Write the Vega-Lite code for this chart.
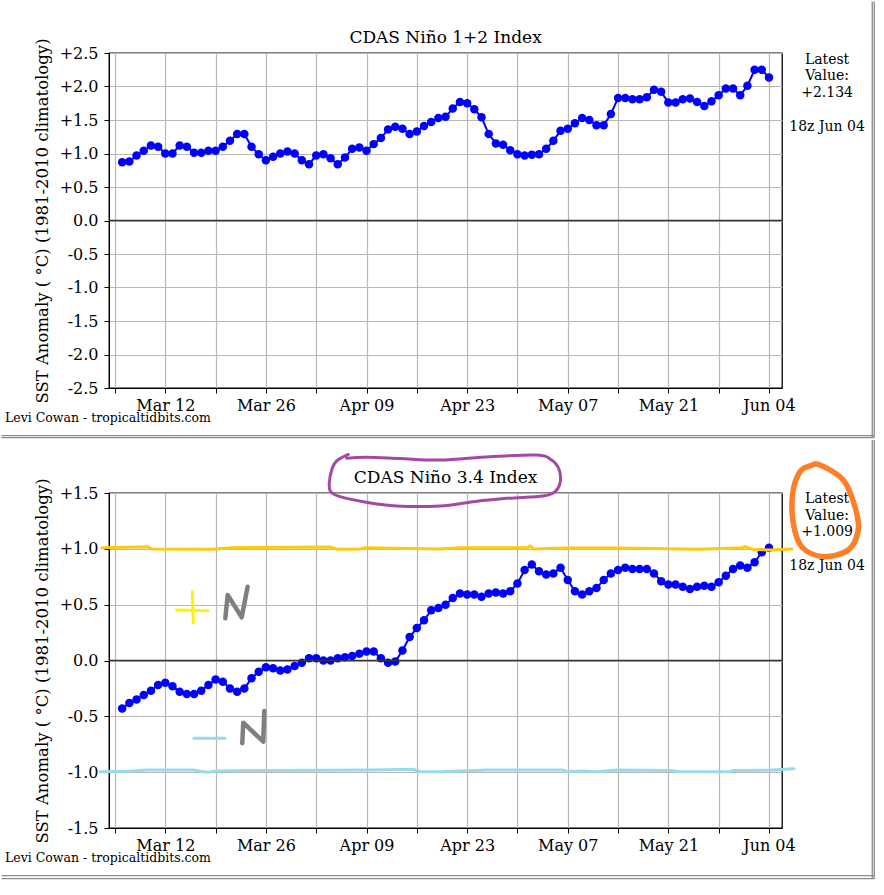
{
  "$schema": "https://vega.github.io/schema/vega-lite/v6.json",
  "padding": 0,
  "background": "white",
  "spacing": 105,
  "bounds": "flush",
  "config": {
    "font": "DejaVu Serif",
    "view": {"stroke": "black", "strokeWidth": 1.3},
    "axis": {
      "labelFont": "DejaVu Serif", "labelFontSize": 16, "labelColor": "black",
      "titleFont": "DejaVu Serif", "titleFontSize": 16.5, "titleFontWeight": "normal", "titleColor": "black",
      "tickColor": "black", "tickSize": 5, "domainColor": "black",
      "gridColor": "#b8b8b8", "gridWidth": 1.2, "labelOverlap": false
    },
    "text": {"font": "DejaVu Serif", "color": "black"}
  },
  "datasets": {
    "nino12": [
      {"date":"2023-03-06","anom":0.87},{"date":"2023-03-07","anom":0.88},{"date":"2023-03-08","anom":0.97},{"date":"2023-03-09","anom":1.04},{"date":"2023-03-10","anom":1.12},{"date":"2023-03-11","anom":1.10},{"date":"2023-03-12","anom":1.00},{"date":"2023-03-13","anom":1.00},{"date":"2023-03-14","anom":1.12},{"date":"2023-03-15","anom":1.10},
      {"date":"2023-03-16","anom":1.01},{"date":"2023-03-17","anom":1.01},{"date":"2023-03-18","anom":1.04},{"date":"2023-03-19","anom":1.04},{"date":"2023-03-20","anom":1.10},{"date":"2023-03-21","anom":1.19},{"date":"2023-03-22","anom":1.29},{"date":"2023-03-23","anom":1.29},{"date":"2023-03-24","anom":1.10},{"date":"2023-03-25","anom":0.99},
      {"date":"2023-03-26","anom":0.90},{"date":"2023-03-27","anom":0.95},{"date":"2023-03-28","anom":1.00},{"date":"2023-03-29","anom":1.03},{"date":"2023-03-30","anom":1.00},{"date":"2023-03-31","anom":0.90},{"date":"2023-04-01","anom":0.84},{"date":"2023-04-02","anom":0.97},{"date":"2023-04-03","anom":0.99},{"date":"2023-04-04","anom":0.93},
      {"date":"2023-04-05","anom":0.84},{"date":"2023-04-06","anom":0.94},{"date":"2023-04-07","anom":1.07},{"date":"2023-04-08","anom":1.09},{"date":"2023-04-09","anom":1.04},{"date":"2023-04-10","anom":1.14},{"date":"2023-04-11","anom":1.23},{"date":"2023-04-12","anom":1.36},{"date":"2023-04-13","anom":1.40},{"date":"2023-04-14","anom":1.37},
      {"date":"2023-04-15","anom":1.29},{"date":"2023-04-16","anom":1.33},{"date":"2023-04-17","anom":1.41},{"date":"2023-04-18","anom":1.47},{"date":"2023-04-19","anom":1.53},{"date":"2023-04-20","anom":1.55},{"date":"2023-04-21","anom":1.67},{"date":"2023-04-22","anom":1.77},{"date":"2023-04-23","anom":1.75},{"date":"2023-04-24","anom":1.66},
      {"date":"2023-04-25","anom":1.54},{"date":"2023-04-26","anom":1.29},{"date":"2023-04-27","anom":1.15},{"date":"2023-04-28","anom":1.13},{"date":"2023-04-29","anom":1.05},{"date":"2023-04-30","anom":0.99},{"date":"2023-05-01","anom":0.97},{"date":"2023-05-02","anom":0.98},{"date":"2023-05-03","anom":0.99},{"date":"2023-05-04","anom":1.07},
      {"date":"2023-05-05","anom":1.19},{"date":"2023-05-06","anom":1.34},{"date":"2023-05-07","anom":1.37},{"date":"2023-05-08","anom":1.45},{"date":"2023-05-09","anom":1.53},{"date":"2023-05-10","anom":1.50},{"date":"2023-05-11","anom":1.42},{"date":"2023-05-12","anom":1.42},{"date":"2023-05-13","anom":1.59},{"date":"2023-05-14","anom":1.83},
      {"date":"2023-05-15","anom":1.83},{"date":"2023-05-16","anom":1.81},{"date":"2023-05-17","anom":1.81},{"date":"2023-05-18","anom":1.84},{"date":"2023-05-19","anom":1.95},{"date":"2023-05-20","anom":1.92},{"date":"2023-05-21","anom":1.76},{"date":"2023-05-22","anom":1.76},{"date":"2023-05-23","anom":1.81},{"date":"2023-05-24","anom":1.82},
      {"date":"2023-05-25","anom":1.77},{"date":"2023-05-26","anom":1.71},{"date":"2023-05-27","anom":1.78},{"date":"2023-05-28","anom":1.87},{"date":"2023-05-29","anom":1.97},{"date":"2023-05-30","anom":1.97},{"date":"2023-05-31","anom":1.87},{"date":"2023-06-01","anom":2.01},{"date":"2023-06-02","anom":2.25},{"date":"2023-06-03","anom":2.25},
      {"date":"2023-06-04","anom":2.134}
    ],
    "nino34": [
      {"date":"2023-03-06","anom":-0.43},{"date":"2023-03-07","anom":-0.38},{"date":"2023-03-08","anom":-0.35},{"date":"2023-03-09","anom":-0.31},{"date":"2023-03-10","anom":-0.27},{"date":"2023-03-11","anom":-0.22},{"date":"2023-03-12","anom":-0.20},{"date":"2023-03-13","anom":-0.23},{"date":"2023-03-14","anom":-0.28},{"date":"2023-03-15","anom":-0.30},
      {"date":"2023-03-16","anom":-0.30},{"date":"2023-03-17","anom":-0.27},{"date":"2023-03-18","anom":-0.22},{"date":"2023-03-19","anom":-0.17},{"date":"2023-03-20","anom":-0.19},{"date":"2023-03-21","anom":-0.25},{"date":"2023-03-22","anom":-0.28},{"date":"2023-03-23","anom":-0.25},{"date":"2023-03-24","anom":-0.16},{"date":"2023-03-25","anom":-0.10},
      {"date":"2023-03-26","anom":-0.06},{"date":"2023-03-27","anom":-0.07},{"date":"2023-03-28","anom":-0.09},{"date":"2023-03-29","anom":-0.08},{"date":"2023-03-30","anom":-0.05},{"date":"2023-03-31","anom":-0.02},{"date":"2023-04-01","anom":0.02},{"date":"2023-04-02","anom":0.02},{"date":"2023-04-03","anom":0.00},{"date":"2023-04-04","anom":0.00},
      {"date":"2023-04-05","anom":0.02},{"date":"2023-04-06","anom":0.03},{"date":"2023-04-07","anom":0.04},{"date":"2023-04-08","anom":0.06},{"date":"2023-04-09","anom":0.08},{"date":"2023-04-10","anom":0.08},{"date":"2023-04-11","anom":0.02},{"date":"2023-04-12","anom":-0.02},{"date":"2023-04-13","anom":-0.01},{"date":"2023-04-14","anom":0.09},
      {"date":"2023-04-15","anom":0.21},{"date":"2023-04-16","anom":0.29},{"date":"2023-04-17","anom":0.36},{"date":"2023-04-18","anom":0.45},{"date":"2023-04-19","anom":0.47},{"date":"2023-04-20","anom":0.50},{"date":"2023-04-21","anom":0.56},{"date":"2023-04-22","anom":0.60},{"date":"2023-04-23","anom":0.59},{"date":"2023-04-24","anom":0.59},
      {"date":"2023-04-25","anom":0.57},{"date":"2023-04-26","anom":0.60},{"date":"2023-04-27","anom":0.61},{"date":"2023-04-28","anom":0.60},{"date":"2023-04-29","anom":0.62},{"date":"2023-04-30","anom":0.69},{"date":"2023-05-01","anom":0.81},{"date":"2023-05-02","anom":0.86},{"date":"2023-05-03","anom":0.80},{"date":"2023-05-04","anom":0.77},
      {"date":"2023-05-05","anom":0.78},{"date":"2023-05-06","anom":0.83},{"date":"2023-05-07","anom":0.72},{"date":"2023-05-08","anom":0.62},{"date":"2023-05-09","anom":0.59},{"date":"2023-05-10","anom":0.62},{"date":"2023-05-11","anom":0.65},{"date":"2023-05-12","anom":0.72},{"date":"2023-05-13","anom":0.78},{"date":"2023-05-14","anom":0.81},
      {"date":"2023-05-15","anom":0.83},{"date":"2023-05-16","anom":0.82},{"date":"2023-05-17","anom":0.82},{"date":"2023-05-18","anom":0.82},{"date":"2023-05-19","anom":0.78},{"date":"2023-05-20","anom":0.71},{"date":"2023-05-21","anom":0.68},{"date":"2023-05-22","anom":0.68},{"date":"2023-05-23","anom":0.66},{"date":"2023-05-24","anom":0.64},
      {"date":"2023-05-25","anom":0.66},{"date":"2023-05-26","anom":0.67},{"date":"2023-05-27","anom":0.66},{"date":"2023-05-28","anom":0.70},{"date":"2023-05-29","anom":0.76},{"date":"2023-05-30","anom":0.82},{"date":"2023-05-31","anom":0.85},{"date":"2023-06-01","anom":0.83},{"date":"2023-06-02","anom":0.88},{"date":"2023-06-03","anom":0.97},
      {"date":"2023-06-04","anom":1.009}
    ],
    "sketch": [
      {"pen":"gold","stroke":"g","seq":0,"t":"2023-03-03T04:30:00Z","v":1.010},
      {"pen":"gold","stroke":"g","seq":1,"t":"2023-03-09T14:10:00Z","v":1.019},
      {"pen":"gold","stroke":"g","seq":2,"t":"2023-03-10T03:35:00Z","v":0.998},
      {"pen":"gold","stroke":"g","seq":3,"t":"2023-03-18T15:20:00Z","v":0.996},
      {"pen":"gold","stroke":"g","seq":4,"t":"2023-03-21T06:40:00Z","v":1.010},
      {"pen":"gold","stroke":"g","seq":5,"t":"2023-04-03T22:00:00Z","v":1.016},
      {"pen":"gold","stroke":"g","seq":6,"t":"2023-04-04T21:20:00Z","v":0.996},
      {"pen":"gold","stroke":"g","seq":7,"t":"2023-04-08T02:10:00Z","v":0.998},
      {"pen":"gold","stroke":"g","seq":8,"t":"2023-04-08T18:45:00Z","v":1.010},
      {"pen":"gold","stroke":"g","seq":9,"t":"2023-04-19T05:20:00Z","v":0.998},
      {"pen":"gold","stroke":"g","seq":10,"t":"2023-04-22T00:00:00Z","v":1.010},
      {"pen":"gold","stroke":"g","seq":11,"t":"2023-05-01T12:00:00Z","v":1.010},
      {"pen":"gold","stroke":"g","seq":12,"t":"2023-05-01T17:45:00Z","v":1.025},
      {"pen":"gold","stroke":"g","seq":13,"t":"2023-05-02T07:10:00Z","v":0.998},
      {"pen":"gold","stroke":"g","seq":14,"t":"2023-05-06T14:40:00Z","v":1.007},
      {"pen":"gold","stroke":"g","seq":15,"t":"2023-05-14T06:30:00Z","v":1.007},
      {"pen":"gold","stroke":"g","seq":16,"t":"2023-05-25T09:35:00Z","v":0.996},
      {"pen":"gold","stroke":"g","seq":17,"t":"2023-05-31T06:00:00Z","v":1.010},
      {"pen":"gold","stroke":"g","seq":18,"t":"2023-05-31T15:50:00Z","v":1.019},
      {"pen":"gold","stroke":"g","seq":19,"t":"2023-06-01T15:10:00Z","v":0.996},
      {"pen":"gold","stroke":"g","seq":20,"t":"2023-06-04T03:20:00Z","v":0.990},
      {"pen":"gold","stroke":"g","seq":21,"t":"2023-06-07T04:50:00Z","v":0.998},
      {"pen":"sky","stroke":"s","seq":0,"t":"2023-03-02T21:50:00Z","v":-0.996},
      {"pen":"sky","stroke":"s","seq":1,"t":"2023-03-07T12:00:00Z","v":-0.990},
      {"pen":"sky","stroke":"s","seq":2,"t":"2023-03-09T10:50:00Z","v":-0.981},
      {"pen":"sky","stroke":"s","seq":3,"t":"2023-03-15T20:25:00Z","v":-0.981},
      {"pen":"sky","stroke":"s","seq":4,"t":"2023-03-17T19:10:00Z","v":-1.001},
      {"pen":"sky","stroke":"s","seq":5,"t":"2023-03-19T04:35:00Z","v":-0.990},
      {"pen":"sky","stroke":"s","seq":6,"t":"2023-03-25T14:10:00Z","v":-0.985},
      {"pen":"sky","stroke":"s","seq":7,"t":"2023-04-09T21:35:00Z","v":-0.981},
      {"pen":"sky","stroke":"s","seq":8,"t":"2023-04-15T11:05:00Z","v":-0.974},
      {"pen":"sky","stroke":"s","seq":9,"t":"2023-04-16T10:30:00Z","v":-0.996},
      {"pen":"sky","stroke":"s","seq":10,"t":"2023-04-19T05:20:00Z","v":-0.996},
      {"pen":"sky","stroke":"s","seq":11,"t":"2023-04-25T18:15:00Z","v":-0.981},
      {"pen":"sky","stroke":"s","seq":12,"t":"2023-05-06T08:00:00Z","v":-0.981},
      {"pen":"sky","stroke":"s","seq":13,"t":"2023-05-06T21:20:00Z","v":-0.996},
      {"pen":"sky","stroke":"s","seq":14,"t":"2023-05-09T02:50:00Z","v":-0.990},
      {"pen":"sky","stroke":"s","seq":15,"t":"2023-05-11T01:35:00Z","v":-0.996},
      {"pen":"sky","stroke":"s","seq":16,"t":"2023-05-13T20:25:00Z","v":-0.981},
      {"pen":"sky","stroke":"s","seq":17,"t":"2023-05-21T05:20:00Z","v":-0.985},
      {"pen":"sky","stroke":"s","seq":18,"t":"2023-05-22T14:40:00Z","v":-0.996},
      {"pen":"sky","stroke":"s","seq":19,"t":"2023-05-29T13:40:00Z","v":-0.996},
      {"pen":"sky","stroke":"s","seq":20,"t":"2023-05-29T23:45:00Z","v":-0.985},
      {"pen":"sky","stroke":"s","seq":21,"t":"2023-06-04T13:10:00Z","v":-0.981},
      {"pen":"sky","stroke":"s","seq":22,"t":"2023-06-07T11:15:00Z","v":-0.969},
      {"pen":"plus","stroke":"p1","seq":0,"t":"2023-03-13T14:03:00Z","v":0.452},
      {"pen":"plus","stroke":"p1","seq":1,"t":"2023-03-17T23:30:00Z","v":0.446},
      {"pen":"plus","stroke":"p2","seq":0,"t":"2023-03-15T18:15:00Z","v":0.616},
      {"pen":"plus","stroke":"p2","seq":1,"t":"2023-03-15T21:20:00Z","v":0.338},
      {"pen":"minus","stroke":"m1","seq":0,"t":"2023-03-15T23:45:00Z","v":-0.697},
      {"pen":"minus","stroke":"m1","seq":1,"t":"2023-03-20T07:25:00Z","v":-0.697},
      {"pen":"n","stroke":"n1","seq":0,"t":"2023-03-20T08:25:00Z","v":0.378},
      {"pen":"n","stroke":"n1","seq":1,"t":"2023-03-20T16:20:00Z","v":0.587},
      {"pen":"n","stroke":"n1","seq":2,"t":"2023-03-22T15:05:00Z","v":0.387},
      {"pen":"n","stroke":"n1","seq":3,"t":"2023-03-23T11:05:00Z","v":0.661},
      {"pen":"n","stroke":"n2","seq":0,"t":"2023-03-22T17:05:00Z","v":-0.741},
      {"pen":"n","stroke":"n2","seq":1,"t":"2023-03-22T20:25:00Z","v":-0.557},
      {"pen":"n","stroke":"n2","seq":2,"t":"2023-03-25T15:10:00Z","v":-0.727},
      {"pen":"n","stroke":"n2","seq":3,"t":"2023-03-25T18:30:00Z","v":-0.452},
      {"pen":"ring","stroke":"r","seq":0,"t":"2023-04-06T11:00:00Z","v":1.845},
      {"pen":"ring","stroke":"r","seq":1,"t":"2023-04-04T20:25:00Z","v":1.787},
      {"pen":"ring","stroke":"r","seq":2,"t":"2023-04-04T03:40:00Z","v":1.706},
      {"pen":"ring","stroke":"r","seq":3,"t":"2023-04-03T19:40:00Z","v":1.587},
      {"pen":"ring","stroke":"r","seq":4,"t":"2023-04-04T00:15:00Z","v":1.512},
      {"pen":"ring","stroke":"r","seq":5,"t":"2023-04-05T07:25:00Z","v":1.467},
      {"pen":"ring","stroke":"r","seq":6,"t":"2023-04-08T13:10:00Z","v":1.422},
      {"pen":"ring","stroke":"r","seq":7,"t":"2023-04-13T04:45:00Z","v":1.384},
      {"pen":"ring","stroke":"r","seq":8,"t":"2023-04-19T05:20:00Z","v":1.384},
      {"pen":"ring","stroke":"r","seq":9,"t":"2023-04-23T20:25:00Z","v":1.422},
      {"pen":"ring","stroke":"r","seq":10,"t":"2023-04-28T12:00:00Z","v":1.452},
      {"pen":"ring","stroke":"r","seq":11,"t":"2023-05-03T14:10:00Z","v":1.473},
      {"pen":"ring","stroke":"r","seq":12,"t":"2023-05-05T05:20:00Z","v":1.512},
      {"pen":"ring","stroke":"r","seq":13,"t":"2023-05-05T22:05:00Z","v":1.587},
      {"pen":"ring","stroke":"r","seq":14,"t":"2023-05-05T19:40:00Z","v":1.706},
      {"pen":"ring","stroke":"r","seq":15,"t":"2023-05-04T18:15:00Z","v":1.795},
      {"pen":"ring","stroke":"r","seq":16,"t":"2023-05-02T16:20:00Z","v":1.840},
      {"pen":"ring","stroke":"r","seq":17,"t":"2023-04-26T04:20:00Z","v":1.825},
      {"pen":"ring","stroke":"r","seq":18,"t":"2023-04-19T05:20:00Z","v":1.795},
      {"pen":"ring","stroke":"r","seq":19,"t":"2023-04-13T15:50:00Z","v":1.809},
      {"pen":"ring","stroke":"r","seq":20,"t":"2023-04-09T00:30:00Z","v":1.820},
      {"pen":"ring","stroke":"r","seq":21,"t":"2023-04-06T05:45:00Z","v":1.811},
      {"pen":"oval","stroke":"o","seq":0,"t":"2023-06-11T02:10:00Z","v":1.751},
      {"pen":"oval","stroke":"o","seq":1,"t":"2023-06-14T08:10:00Z","v":1.616},
      {"pen":"oval","stroke":"o","seq":2,"t":"2023-06-15T23:05:00Z","v":1.377},
      {"pen":"oval","stroke":"o","seq":3,"t":"2023-06-16T10:05:00Z","v":1.169},
      {"pen":"oval","stroke":"o","seq":4,"t":"2023-06-15T00:45:00Z","v":0.990},
      {"pen":"oval","stroke":"o","seq":5,"t":"2023-06-11T13:10:00Z","v":0.930},
      {"pen":"oval","stroke":"o","seq":6,"t":"2023-06-08T13:10:00Z","v":1.019},
      {"pen":"oval","stroke":"o","seq":7,"t":"2023-06-07T09:10:00Z","v":1.229},
      {"pen":"oval","stroke":"o","seq":8,"t":"2023-06-07T07:10:00Z","v":1.497},
      {"pen":"oval","stroke":"o","seq":9,"t":"2023-06-08T07:25:00Z","v":1.691},
      {"pen":"oval","stroke":"o","seq":10,"t":"2023-06-09T16:50:00Z","v":1.742}
    ]
  },
  "vconcat": [
    {
      "width": 673, "height": 335,
      "layer": [
        {
          "data": {"name": "nino12"},
          "mark": {"type": "line", "color": "#0000ff", "strokeWidth": 2, "point": {"filled": true, "size": 72, "color": "#0000ff", "opacity": 1}},
          "encoding": {
            "x": {"field": "date", "type": "temporal",
              "scale": {"type": "utc", "domain": [{"year":2023,"month":3,"date":4,"hours":4,"utc":true},{"year":2023,"month":6,"date":5,"hours":19,"minutes":30,"utc":true}]},
              "axis": {"title": null, "grid": true, "labelFlush": false, "labelOverlap": false, "labelPadding": 4, "tickCount": 30,
                "values": [{"year":2023,"month":3,"date":5,"utc":true},{"year":2023,"month":3,"date":12,"utc":true},{"year":2023,"month":3,"date":19,"utc":true},{"year":2023,"month":3,"date":26,"utc":true},{"year":2023,"month":4,"date":2,"utc":true},{"year":2023,"month":4,"date":9,"utc":true},{"year":2023,"month":4,"date":16,"utc":true},{"year":2023,"month":4,"date":23,"utc":true},{"year":2023,"month":4,"date":30,"utc":true},{"year":2023,"month":5,"date":7,"utc":true},{"year":2023,"month":5,"date":14,"utc":true},{"year":2023,"month":5,"date":21,"utc":true},{"year":2023,"month":5,"date":28,"utc":true},{"year":2023,"month":6,"date":4,"utc":true}],
                "labelExpr": "round((+datum.value - utc(2023, 2, 12)) / 604800000) % 2 == 0 ? utcFormat(datum.value, '%b %d') : ''"}},
            "y": {"field": "anom", "type": "quantitative",
              "scale": {"domain": [-2.5, 2.5], "nice": false, "zero": false},
              "axis": {"title": "SST Anomaly ( °C) (1981-2010 climatology)", "grid": true, "labelOverlap": false, "labelPadding": 6, "titlePadding": 9, "tickCount": 30,
                "values": [-2.5,-2,-1.5,-1,-0.5,0,0.5,1,1.5,2,2.5],
                "labelExpr": "datum.value > 0 ? '+' + format(datum.value, '.1f') : (datum.value < 0 ? '-' + format(-datum.value, '.1f') : '0.0')"}}
          }
        },
        {
          "data": {"values": [{}]},
          "mark": {"type": "rule", "color": "#333333", "strokeWidth": 1.3},
          "encoding": {"y": {"datum": 0, "type": "quantitative"}}
        },
        {
          "data": {"values": [{}]},
          "mark": {"type": "text", "align": "center", "baseline": "alphabetic", "fontSize": 17},
          "encoding": {"x": {"datum": {"year":2023,"month":4,"date":20,"utc":true}, "type": "temporal"}, "y": {"datum": 2.649, "type": "quantitative"}, "text": {"value": "CDAS Niño 1+2 Index"}}
        },
        {
          "data": {"values": [{}]},
          "mark": {"type": "text", "align": "center", "baseline": "alphabetic", "fontSize": 14, "lineHeight": 16.5, "lineBreak": "\n"},
          "encoding": {"x": {"datum": {"year":2023,"month":6,"date":12,"hours":2,"utc":true}, "type": "temporal"}, "y": {"datum": 2.343, "type": "quantitative"}, "text": {"value": "Latest\nValue:\n+2.134"}}
        },
        {
          "data": {"values": [{}]},
          "mark": {"type": "text", "align": "center", "baseline": "alphabetic", "fontSize": 14},
          "encoding": {"x": {"datum": {"year":2023,"month":6,"date":12,"hours":2,"utc":true}, "type": "temporal"}, "y": {"datum": 1.343, "type": "quantitative"}, "text": {"value": "18z Jun 04"}}
        },
        {
          "data": {"values": [{}]},
          "mark": {"type": "text", "align": "left", "baseline": "alphabetic", "fontSize": 12.5},
          "encoding": {"x": {"datum": {"year":2023,"month":2,"date":17,"hours":16,"minutes":40,"utc":true}, "type": "temporal"}, "y": {"datum": -3.007, "type": "quantitative"}, "text": {"value": "Levi Cowan - tropicaltidbits.com"}}
        },
        {
          "data": {"values": [{}]},
          "mark": {"type": "rule", "color": "#8c8c8c", "strokeWidth": 1.3},
          "encoding": {"x": {"datum": {"year":2023,"month":2,"date":17,"hours":4,"minutes":40,"utc":true}, "type": "temporal"}, "x2": {"datum": {"year":2023,"month":6,"date":18,"hours":15,"minutes":35,"utc":true}}, "y": {"datum": -3.212, "type": "quantitative"}}
        },
        {
          "data": {"values": [{}]},
          "mark": {"type": "rule", "color": "#8c8c8c", "strokeWidth": 1.3},
          "encoding": {"x": {"datum": {"year":2023,"month":2,"date":17,"hours":4,"minutes":40,"utc":true}, "type": "temporal"}, "x2": {"datum": {"year":2023,"month":6,"date":18,"hours":15,"minutes":35,"utc":true}}, "y": {"datum": -3.242, "type": "quantitative"}}
        },
        {
          "data": {"values": [{}]},
          "mark": {"type": "rule", "color": "#8c8c8c", "strokeWidth": 1.3},
          "encoding": {"x": {"datum": {"year":2023,"month":6,"date":18,"hours":8,"minutes":55,"utc":true}, "type": "temporal"}, "y": {"datum": 3.270, "type": "quantitative"}, "y2": {"datum": -3.242}}
        },
        {
          "data": {"values": [{}]},
          "mark": {"type": "rule", "color": "#8c8c8c", "strokeWidth": 1.3},
          "encoding": {"x": {"datum": {"year":2023,"month":6,"date":18,"hours":15,"minutes":35,"utc":true}, "type": "temporal"}, "y": {"datum": 3.270, "type": "quantitative"}, "y2": {"datum": -3.242}}
        }
      ]
    },
    {
      "width": 673, "height": 335,
      "layer": [
        {
          "data": {"name": "nino34"},
          "mark": {"type": "line", "color": "#0000ff", "strokeWidth": 2, "point": {"filled": true, "size": 72, "color": "#0000ff", "opacity": 1}},
          "encoding": {
            "x": {"field": "date", "type": "temporal",
              "scale": {"type": "utc", "domain": [{"year":2023,"month":3,"date":4,"hours":4,"utc":true},{"year":2023,"month":6,"date":5,"hours":19,"minutes":30,"utc":true}]},
              "axis": {"title": null, "grid": true, "labelFlush": false, "labelOverlap": false, "labelPadding": 4, "tickCount": 30,
                "values": [{"year":2023,"month":3,"date":5,"utc":true},{"year":2023,"month":3,"date":12,"utc":true},{"year":2023,"month":3,"date":19,"utc":true},{"year":2023,"month":3,"date":26,"utc":true},{"year":2023,"month":4,"date":2,"utc":true},{"year":2023,"month":4,"date":9,"utc":true},{"year":2023,"month":4,"date":16,"utc":true},{"year":2023,"month":4,"date":23,"utc":true},{"year":2023,"month":4,"date":30,"utc":true},{"year":2023,"month":5,"date":7,"utc":true},{"year":2023,"month":5,"date":14,"utc":true},{"year":2023,"month":5,"date":21,"utc":true},{"year":2023,"month":5,"date":28,"utc":true},{"year":2023,"month":6,"date":4,"utc":true}],
                "labelExpr": "round((+datum.value - utc(2023, 2, 12)) / 604800000) % 2 == 0 ? utcFormat(datum.value, '%b %d') : ''"}},
            "y": {"field": "anom", "type": "quantitative",
              "scale": {"domain": [-1.5, 1.5], "nice": false, "zero": false},
              "axis": {"title": "SST Anomaly ( °C) (1981-2010 climatology)", "grid": true, "labelOverlap": false, "labelPadding": 6, "titlePadding": 9, "tickCount": 30,
                "values": [-1.5,-1,-0.5,0,0.5,1,1.5],
                "labelExpr": "datum.value > 0 ? '+' + format(datum.value, '.1f') : (datum.value < 0 ? '-' + format(-datum.value, '.1f') : '0.0')"}}
          }
        },
        {
          "data": {"values": [{}]},
          "mark": {"type": "rule", "color": "#333333", "strokeWidth": 1.3},
          "encoding": {"y": {"datum": 0, "type": "quantitative"}}
        },
        {
          "data": {"values": [{}]},
          "mark": {"type": "text", "align": "center", "baseline": "alphabetic", "fontSize": 17},
          "encoding": {"x": {"datum": {"year":2023,"month":4,"date":20,"utc":true}, "type": "temporal"}, "y": {"datum": 1.590, "type": "quantitative"}, "text": {"value": "CDAS Niño 3.4 Index"}}
        },
        {
          "data": {"values": [{}]},
          "mark": {"type": "text", "align": "center", "baseline": "alphabetic", "fontSize": 14, "lineHeight": 16.5, "lineBreak": "\n"},
          "encoding": {"x": {"datum": {"year":2023,"month":6,"date":12,"hours":2,"utc":true}, "type": "temporal"}, "y": {"datum": 1.406, "type": "quantitative"}, "text": {"value": "Latest\nValue:\n+1.009"}}
        },
        {
          "data": {"values": [{}]},
          "mark": {"type": "text", "align": "center", "baseline": "alphabetic", "fontSize": 14},
          "encoding": {"x": {"datum": {"year":2023,"month":6,"date":12,"hours":2,"utc":true}, "type": "temporal"}, "y": {"datum": 0.806, "type": "quantitative"}, "text": {"value": "18z Jun 04"}}
        },
        {
          "data": {"values": [{}]},
          "mark": {"type": "text", "align": "left", "baseline": "alphabetic", "fontSize": 12.5},
          "encoding": {"x": {"datum": {"year":2023,"month":2,"date":17,"hours":16,"minutes":40,"utc":true}, "type": "temporal"}, "y": {"datum": -1.804, "type": "quantitative"}, "text": {"value": "Levi Cowan - tropicaltidbits.com"}}
        },
        {
          "data": {"values": [{}]},
          "mark": {"type": "rule", "color": "#8c8c8c", "strokeWidth": 1.3},
          "encoding": {"x": {"datum": {"year":2023,"month":2,"date":17,"hours":4,"minutes":40,"utc":true}, "type": "temporal"}, "x2": {"datum": {"year":2023,"month":6,"date":18,"hours":15,"minutes":35,"utc":true}}, "y": {"datum": -1.927, "type": "quantitative"}}
        },
        {
          "data": {"values": [{}]},
          "mark": {"type": "rule", "color": "#8c8c8c", "strokeWidth": 1.3},
          "encoding": {"x": {"datum": {"year":2023,"month":2,"date":17,"hours":4,"minutes":40,"utc":true}, "type": "temporal"}, "x2": {"datum": {"year":2023,"month":6,"date":18,"hours":15,"minutes":35,"utc":true}}, "y": {"datum": -1.954, "type": "quantitative"}}
        },
        {
          "data": {"values": [{}]},
          "mark": {"type": "rule", "color": "#8c8c8c", "strokeWidth": 1.3},
          "encoding": {"x": {"datum": {"year":2023,"month":6,"date":18,"hours":8,"minutes":55,"utc":true}, "type": "temporal"}, "y": {"datum": 1.975, "type": "quantitative"}, "y2": {"datum": -1.954}}
        },
        {
          "data": {"values": [{}]},
          "mark": {"type": "rule", "color": "#8c8c8c", "strokeWidth": 1.3},
          "encoding": {"x": {"datum": {"year":2023,"month":6,"date":18,"hours":15,"minutes":35,"utc":true}, "type": "temporal"}, "y": {"datum": 1.975, "type": "quantitative"}, "y2": {"datum": -1.954}}
        },
        {
          "data": {"name": "sketch"},
          "transform": [{"filter": "datum.pen == 'gold'"}],
          "mark": {"type": "line", "color": "#FFC90E", "strokeWidth": 3, "strokeCap": "round"},
          "encoding": {"x": {"field": "t", "type": "temporal"}, "y": {"field": "v", "type": "quantitative"}, "order": {"field": "seq"}}
        },
        {
          "data": {"name": "sketch"},
          "transform": [{"filter": "datum.pen == 'sky'"}],
          "mark": {"type": "line", "color": "#99D9EA", "strokeWidth": 3, "strokeCap": "round"},
          "encoding": {"x": {"field": "t", "type": "temporal"}, "y": {"field": "v", "type": "quantitative"}, "order": {"field": "seq"}}
        },
        {
          "data": {"name": "sketch"},
          "transform": [{"filter": "datum.pen == 'plus'"}],
          "mark": {"type": "line", "color": "#FFF200", "strokeWidth": 3, "strokeCap": "round"},
          "encoding": {"x": {"field": "t", "type": "temporal"}, "y": {"field": "v", "type": "quantitative"}, "detail": {"field": "stroke"}, "order": {"field": "seq"}}
        },
        {
          "data": {"name": "sketch"},
          "transform": [{"filter": "datum.pen == 'minus'"}],
          "mark": {"type": "line", "color": "#99D9EA", "strokeWidth": 3, "strokeCap": "round"},
          "encoding": {"x": {"field": "t", "type": "temporal"}, "y": {"field": "v", "type": "quantitative"}, "detail": {"field": "stroke"}, "order": {"field": "seq"}}
        },
        {
          "data": {"name": "sketch"},
          "transform": [{"filter": "datum.pen == 'n'"}],
          "mark": {"type": "line", "color": "#7F7F7F", "strokeWidth": 4.5, "strokeCap": "round", "strokeJoin": "round"},
          "encoding": {"x": {"field": "t", "type": "temporal"}, "y": {"field": "v", "type": "quantitative"}, "detail": {"field": "stroke"}, "order": {"field": "seq"}}
        },
        {
          "data": {"name": "sketch"},
          "transform": [{"filter": "datum.pen == 'ring'"}],
          "mark": {"type": "line", "color": "#A349A4", "strokeWidth": 3, "strokeCap": "round", "interpolate": "cardinal"},
          "encoding": {"x": {"field": "t", "type": "temporal"}, "y": {"field": "v", "type": "quantitative"}, "order": {"field": "seq"}}
        },
        {
          "data": {"name": "sketch"},
          "transform": [{"filter": "datum.pen == 'oval'"}],
          "mark": {"type": "line", "color": "#FF7F27", "strokeWidth": 5.5, "interpolate": "cardinal-closed"},
          "encoding": {"x": {"field": "t", "type": "temporal"}, "y": {"field": "v", "type": "quantitative"}, "order": {"field": "seq"}}
        }
      ]
    }
  ]
}
